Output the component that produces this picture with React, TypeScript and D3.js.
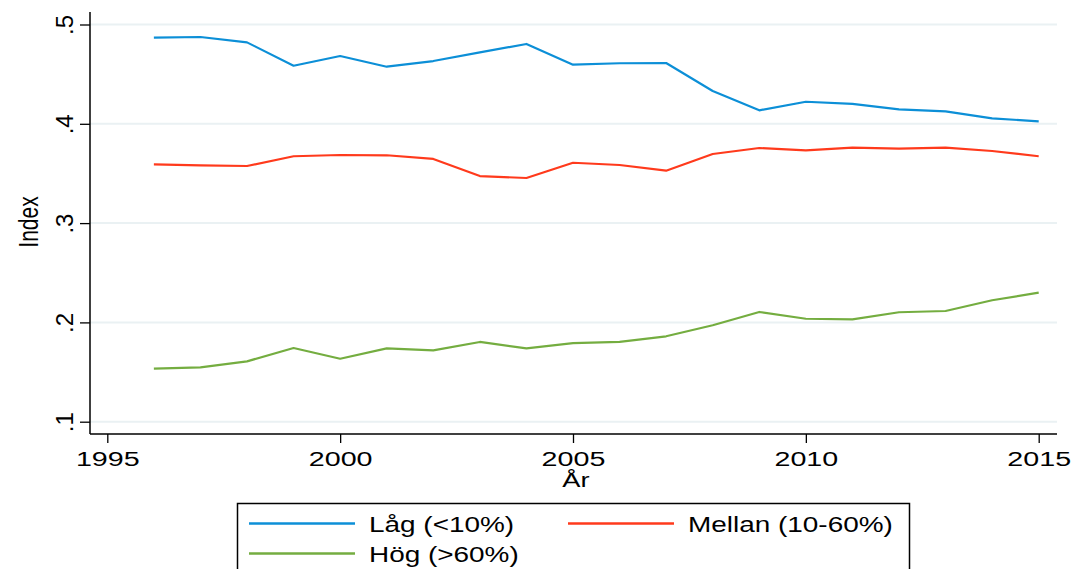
import React, { useRef, useEffect } from "react";
import * as d3 from "d3";

const years = [1996, 1997, 1998, 1999, 2000, 2001, 2002, 2003, 2004, 2005, 2006, 2007, 2008, 2009, 2010, 2011, 2012, 2013, 2014, 2015];
const lag = [0.4867, 0.4874, 0.482, 0.4585, 0.4683, 0.4575, 0.4632, 0.472, 0.4804, 0.4595, 0.461, 0.4612, 0.433, 0.4136, 0.4222, 0.42, 0.4146, 0.4126, 0.4055, 0.4025];
const mellan = [0.3592, 0.3582, 0.3575, 0.3673, 0.3686, 0.3683, 0.3646, 0.3474, 0.3454, 0.3608, 0.3585, 0.3528, 0.3696, 0.3756, 0.3733, 0.376, 0.375, 0.376, 0.3726, 0.3673];
const hog = [0.1534, 0.1548, 0.1608, 0.1742, 0.1634, 0.1739, 0.1719, 0.1803, 0.1739, 0.1792, 0.1803, 0.186, 0.1971, 0.2105, 0.2037, 0.2031, 0.2102, 0.2115, 0.2223, 0.2299];
const xTicks = [1995, 2000, 2005, 2010, 2015];
const yTicks = [0.1, 0.2, 0.3, 0.4, 0.5];
const seriesNames = ["Låg (<10%)", "Mellan (10-60%)", "Hög (>60%)"];
const colors = ["#0c8fd7", "#ff3a1c", "#74ad40"];

const FONT = "'Liberation Sans', Arial, Helvetica, sans-serif";

export default function App() {
  const svgRef = useRef<SVGSVGElement>(null);

  useEffect(() => {
    const svg = d3.select(svgRef.current);
    svg.selectAll("*").remove();

    const left = 90, right = 1057, top = 12, bottom = 434;

    // scales
    const x = d3.scaleLinear().domain([1995, 2015]).range([107.3, 1038.7]);
    const y = d3.scaleLinear().domain([0.1, 0.5]).range([421.7, 24.5]);

    // gridlines
    svg.append("g")
      .selectAll("line")
      .data(yTicks)
      .join("line")
      .attr("x1", left).attr("x2", right)
      .attr("y1", d => y(d)).attr("y2", d => y(d))
      .attr("stroke", "#eaf1f3")
      .attr("stroke-width", 2);

    // y axis
    const yAxis = d3.axisLeft(y).tickValues(yTicks).tickSize(10).tickPadding(0)
      .tickFormat(d => d3.format(".1f")(d as number).replace(/^0/, ""));
    const gy = svg.append("g").attr("transform", `translate(${left},0)`).call(yAxis);
    gy.select(".domain").remove();
    gy.selectAll(".tick line").attr("stroke", "#000").attr("stroke-width", 1.3);
    gy.selectAll(".tick text")
      .attr("x", null).attr("dy", null)
      .attr("transform", "translate(-17,0) rotate(-90)")
      .attr("text-anchor", "middle")
      .attr("font-family", FONT)
      .attr("font-size", 24)
      .attr("fill", "#000");
    svg.append("line")
      .attr("x1", left).attr("x2", left).attr("y1", top).attr("y2", bottom)
      .attr("stroke", "#000").attr("stroke-width", 1.5);

    // x axis
    const xAxis = d3.axisBottom(x).tickValues(xTicks).tickSize(9).tickFormat(d3.format("d"));
    const gx = svg.append("g").attr("transform", `translate(0,${bottom})`).call(xAxis);
    gx.select(".domain").remove();
    gx.selectAll(".tick line").attr("stroke", "#000").attr("stroke-width", 1.3);
    gx.selectAll(".tick text")
      .attr("y", null).attr("dy", null)
      .attr("transform", "translate(0,32) scale(1.4,1)")
      .attr("text-anchor", "middle")
      .attr("font-family", FONT)
      .attr("font-size", 20.5)
      .attr("fill", "#000");
    svg.append("line")
      .attr("x1", left).attr("x2", right).attr("y1", bottom).attr("y2", bottom)
      .attr("stroke", "#000").attr("stroke-width", 1.5);

    // axis titles
    svg.append("text")
      .attr("transform", "translate(576,487) scale(1.3,1)")
      .attr("text-anchor", "middle")
      .attr("font-family", FONT).attr("font-size", 21)
      .text("År");
    svg.append("text")
      .attr("transform", "translate(38,222) rotate(-90) scale(1,1.35)")
      .attr("text-anchor", "middle")
      .attr("font-family", FONT).attr("font-size", 21)
      .text("Index");

    // lines
    const allSeries = [lag, mellan, hog];
    const lineGen = d3.line<number>()
      .x((_, i) => x(years[i]))
      .y(v => y(v));
    svg.append("g")
      .selectAll("path")
      .data(allSeries)
      .join("path")
      .attr("d", d => lineGen(d))
      .attr("fill", "none")
      .attr("stroke", (_, i) => colors[i])
      .attr("stroke-width", 2.2)
      .attr("stroke-linejoin", "round");

    // legend
    const lg = svg.append("g");
    lg.append("rect")
      .attr("x", 237.5).attr("y", 503.5).attr("width", 672).attr("height", 90)
      .attr("fill", "#fff").attr("stroke", "#000").attr("stroke-width", 1.5);
    const items = [
      { lx: 249, ty: 0 },
      { lx: 568, ty: 0 },
      { lx: 249, ty: 1 },
    ];
    items.forEach((it, i) => {
      const cy = 523.5 + it.ty * 30;
      lg.append("line")
        .attr("x1", it.lx).attr("x2", it.lx + 106)
        .attr("y1", cy).attr("y2", cy)
        .attr("stroke", colors[i]).attr("stroke-width", 2.6);
      lg.append("text")
        .attr("transform", `translate(${it.lx + 120},${cy + 8}) scale(1.27,1)`)
        .attr("font-family", FONT).attr("font-size", 22)
        .text(seriesNames[i]);
    });
  }, []);

  return (
    <svg
      ref={svgRef}
      width={1073}
      height={569}
      style={{ position: "absolute", left: 0, top: 0, background: "#fff" }}
    />
  );
}
